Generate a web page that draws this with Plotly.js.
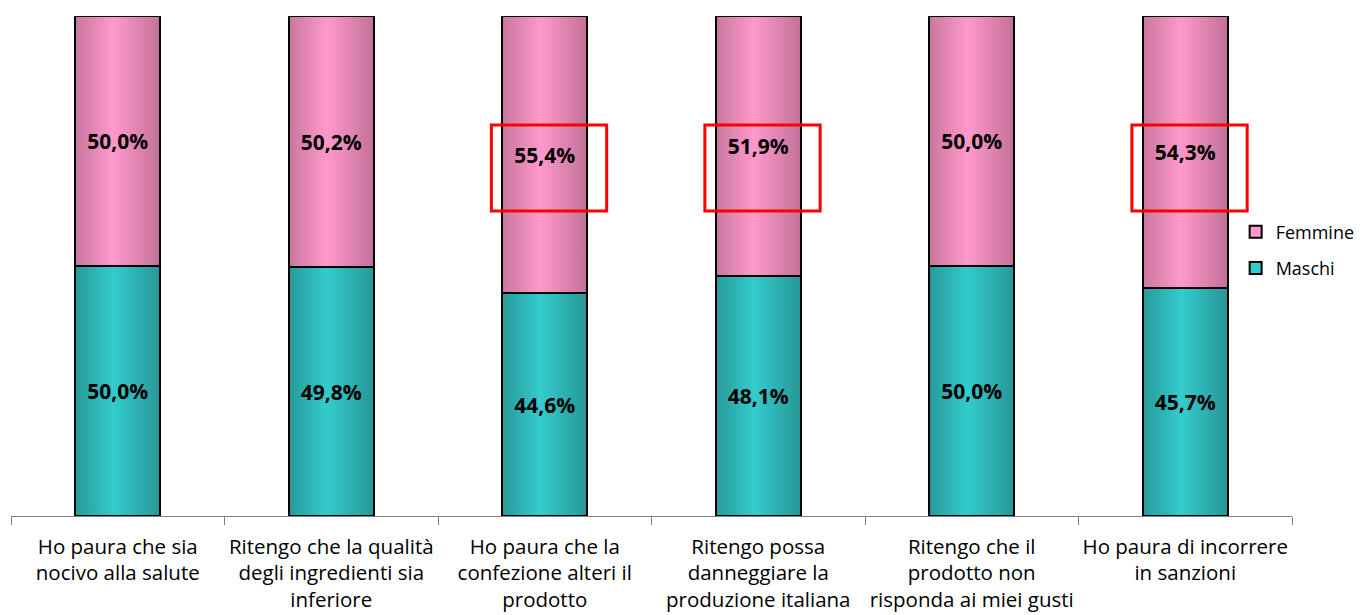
<!DOCTYPE html>
<html><head><meta charset="utf-8">
<script src="https://cdn.plot.ly/plotly-3.0.1.min.js"></script>
<style>body{margin:0;background:#fff}#chart{width:1363px;height:615px}</style>
</head><body><div id="chart"></div>
<script>
var categories = [
  "Ho paura che sia<br>nocivo alla salute",
  "Ritengo che la qualità<br>degli ingredienti sia<br>inferiore",
  "Ho paura che la<br>confezione alteri il<br>prodotto",
  "Ritengo possa<br>danneggiare la<br>produzione italiana",
  "Ritengo che il<br>prodotto non<br>risponda ai miei gusti",
  "Ho paura di incorrere<br>in sanzioni"
];
var maschi = [50.0, 49.8, 44.6, 48.1, 50.0, 45.7];
var femmine = [50.0, 50.2, 55.4, 51.9, 50.0, 54.3];
var highlighted = [2, 3, 5];

function fmt(v){
  return '<b>' + v.toFixed(1).replace('.', ',') + '%</b>';
}
var idx = categories.map(function(_, i){ return i; });
var FONT = "Open Sans, DejaVu Sans, sans-serif";

var traces = [
  {type:'bar', name:'Maschi', x: idx, y: maschi, text: maschi.map(fmt),
   textposition:'inside', insidetextanchor:'middle', textangle:0,
   textfont:{family:FONT, size:21, color:'#000'},
   marker:{color:'#33cccc', line:{color:'#000', width:2}}, width:0.4,
   hoverinfo:'none', legendgroup:'m', legendrank:2},
  {type:'bar', name:'Femmine', x: idx, y: femmine, text: femmine.map(fmt),
   textposition:'inside', insidetextanchor:'middle', textangle:0,
   textfont:{family:FONT, size:21, color:'#000'},
   marker:{color:'#ff99cc', line:{color:'#000', width:2}}, width:0.4,
   hoverinfo:'none', legendgroup:'f', legendrank:1}
];

var shapes = highlighted.map(function(i){
  return {type:'rect', xref:'x', yref:'y', x0:i-0.25, x1:i+0.29, y0:61, y1:78.2,
          line:{color:'#ff0000', width:3}, fillcolor:'rgba(0,0,0,0)'};
});

var layout = {
  width:1363, height:615,
  margin:{l:11, r:71, t:16, b:99, autoexpand:false},
  barmode:'stack',
  paper_bgcolor:'#fff', plot_bgcolor:'#fff',
  font:{family:FONT, color:'#000'},
  xaxis:{tickmode:'array', tickvals: idx, ticktext: categories,
         range:[-0.5, 5.5], showgrid:false, zeroline:false,
         showline:true, linecolor:'#808080', linewidth:1,
         ticks:'', ticklabelstandoff:12,
         tickfont:{family:FONT, size:20.5, color:'#000'}, fixedrange:true},
  xaxis2:{overlaying:'x', range:[-0.5,5.5], tickmode:'array',
          tickvals:[-0.5,0.5,1.5,2.5,3.5,4.5,5.5], showticklabels:false,
          ticks:'outside', ticklen:8, tickcolor:'#808080', showgrid:false, zeroline:false},
  yaxis:{range:[0,100], visible:false, fixedrange:true},
  legend:{x:0.956, y:0.532, xanchor:'left', yanchor:'middle', traceorder:'grouped',
          font:{family:FONT, size:18, color:'#000'}, tracegroupgap:10,
          bgcolor:'rgba(0,0,0,0)', itemwidth:30},
  shapes: shapes,
  showlegend:true
};
// invisible trace to carry the tick-mark axis
traces.push({type:'scatter', x:[-0.5], y:[0], xaxis:'x2', mode:'markers',
  marker:{opacity:0}, showlegend:false, hoverinfo:'none'});

Plotly.newPlot('chart', traces, layout, {displayModeBar:false, staticPlot:true}).then(function(gd){
  var svg = gd.querySelector('.main-svg');
  var ns = 'http://www.w3.org/2000/svg';
  var defs = document.createElementNS(ns, 'defs');
  function grad(id, stops){
    var g = document.createElementNS(ns, 'linearGradient');
    g.setAttribute('id', id); g.setAttribute('x1','0'); g.setAttribute('x2','1');
    g.setAttribute('y1','0'); g.setAttribute('y2','0');
    stops.forEach(function(s){
      var st = document.createElementNS(ns, 'stop');
      st.setAttribute('offset', s[0]); st.setAttribute('stop-color', s[1]);
      g.appendChild(st);
    });
    defs.appendChild(g);
  }
  grad('gPink', [[0,'#c8769e'],[0.45,'#ff99cc'],[1,'#c27098']]);
  grad('gTeal', [[0,'#27999a'],[0.45,'#33cccc'],[1,'#279696']]);
  svg.insertBefore(defs, svg.firstChild);
  var bars = gd.querySelectorAll('.barlayer .trace');
  var ids = ['gTeal','gPink'];
  bars.forEach(function(t, k){
    t.querySelectorAll('.point path').forEach(function(p){
      p.style.fill = 'url(#' + ids[k] + ')';
    });
  });
});
</script></body></html>
